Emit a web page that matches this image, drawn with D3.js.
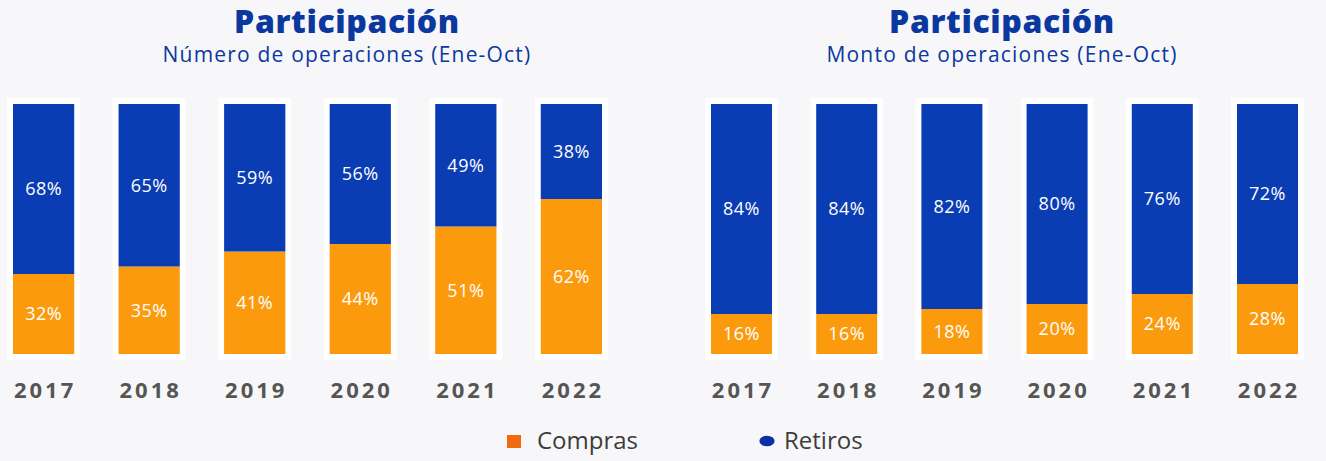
<!DOCTYPE html>
<html>
<head>
<meta charset="UTF-8">
<title>Participación</title>
<script src="https://cdn.jsdelivr.net/npm/d3@7"></script>
<style>
  body { margin: 0; background: #f7f7f9; }
  svg { display: block; }
  .titre { font-family: "Open Sans", sans-serif; font-weight: 800; fill: #0b389e; letter-spacing: 0.6px; }
  .sous-titre { font-family: "Open Sans", sans-serif; fill: #0b389e; letter-spacing: 1.2px; }
  .annee { font-family: "Open Sans", sans-serif; font-weight: 700; fill: #555; letter-spacing: 3px; }
  .pct { font-family: "Open Sans", sans-serif; fill: #fff; letter-spacing: 0.5px; }
  .legende text { font-family: "Open Sans", sans-serif; fill: #3c3c3c; }
</style>
</head>
<body>
<div id="graphe"></div>
<script>
// données
var annees = ["2017", "2018", "2019", "2020", "2021", "2022"];
var series = ["Compras", "Retiros"];
var nbCompras = [32, 35, 41, 44, 51, 62];
var nbRetiros = [68, 65, 59, 56, 49, 38];
var montoCompras = [16, 16, 18, 20, 24, 28];
var montoRetiros = [84, 84, 82, 80, 76, 72];

var width = 1326, height = 461;
var couleurs = d3.scaleOrdinal().domain(series).range(["#fb9a0c", "#0a3db3"]);

var svg = d3.select("#graphe").append("svg")
    .attr("width", width)
    .attr("height", height);

var y = d3.scaleLinear().domain([0, 100]).range([354, 104]);

function graphe(x0, x1, centre, titre, sousTitre, compras, retiros) {
    var x = d3.scaleBand().domain(annees).range([x0, x1]).paddingInner(0.42).paddingOuter(0);
    var g = svg.append("g");

    g.append("text").attr("class", "titre")
        .attr("x", centre).attr("y", 33)
        .attr("text-anchor", "middle")
        .style("font-size", "32px")
        .text(titre);
    g.append("text").attr("class", "sous-titre")
        .attr("x", centre).attr("y", 62)
        .attr("text-anchor", "middle")
        .style("font-size", "21px")
        .text(sousTitre);

    var table = annees.map(function(a, i) {
        return { annee: a, Compras: compras[i], Retiros: retiros[i] };
    });
    var pile = d3.stack().keys(series)(table);

    // halo blanc autour des barres
    g.append("g").selectAll("rect")
        .data(annees)
        .enter().append("rect")
        .attr("x", function(d) { return x(d) - 6; })
        .attr("y", y(100) - 6)
        .attr("width", x.bandwidth() + 12)
        .attr("height", y(0) - y(100) + 12)
        .attr("fill", "#ffffff")
        .attr("opacity", 0.8);

    var couche = g.append("g").selectAll("g")
        .data(pile)
        .enter().append("g")
        .attr("fill", function(d) { return couleurs(d.key); });

    couche.selectAll("rect")
        .data(function(d) { return d; })
        .enter().append("rect")
        .attr("x", function(d) { return x(d.data.annee); })
        .attr("y", function(d) { return y(d[1]); })
        .attr("width", x.bandwidth())
        .attr("height", function(d) { return y(d[0]) - y(d[1]); });

    couche.selectAll("text")
        .data(function(d) { return d; })
        .enter().append("text")
        .attr("class", "pct")
        .attr("x", function(d) { return x(d.data.annee) + x.bandwidth() / 2; })
        .attr("y", function(d) { return (y(d[0]) + y(d[1])) / 2; })
        .attr("dy", ".35em")
        .attr("text-anchor", "middle")
        .style("font-size", "18px")
        .text(function(d) { return (d[1] - d[0]) + "%"; });

    var axe = g.append("g")
        .attr("transform", "translate(0,382)")
        .call(d3.axisBottom(x).tickSize(0).tickPadding(0));
    axe.select(".domain").remove();
    axe.selectAll("text")
        .attr("class", "annee")
        .attr("dy", "0.71em")
        .attr("dx", "1.5px")
        .style("font-size", "22px");
}

graphe(13, 602, 347, "Participación", "Número de operaciones (Ene-Oct)", nbCompras, nbRetiros);
graphe(711, 1298, 1002, "Participación", "Monto de operaciones (Ene-Oct)", montoCompras, montoRetiros);

// légende
var leg = svg.append("g").attr("class", "legende");
var posLeg = [507, 757];
var item = leg.selectAll("g")
    .data(series)
    .enter().append("g")
    .attr("transform", function(d, i) { return "translate(" + posLeg[i] + ",441)"; });

item.filter(function(d, i) { return i === 0; })
    .append("rect")
    .attr("x", 0).attr("y", -6)
    .attr("width", 14).attr("height", 13)
    .attr("fill", "#f26a0f");
item.filter(function(d, i) { return i === 1; })
    .append("path")
    .attr("d", d3.symbol().type(d3.symbolCircle).size(150))
    .attr("transform", "translate(10,0) scale(1.1,0.75)")
    .attr("fill", "#0a2fa6");

item.append("text")
    .attr("x", function(d, i) { return i === 0 ? 30 : 27; })
    .attr("y", 0)
    .attr("dy", ".35em")
    .style("font-size", "24px")
    .text(function(d) { return d; });
</script>
</body>
</html>
